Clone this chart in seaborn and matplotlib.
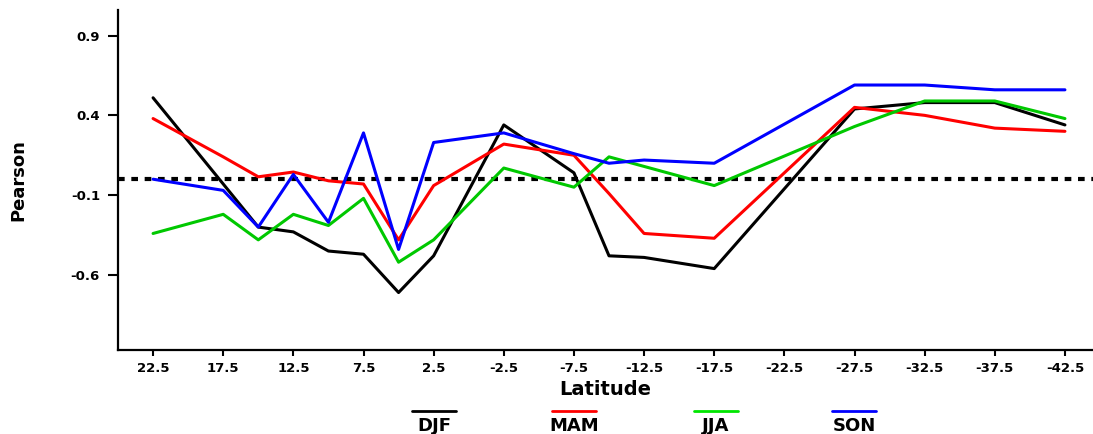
import numpy as np
import pandas as pd
import matplotlib
matplotlib.use("Agg")
import matplotlib.pyplot as plt
from matplotlib.lines import Line2D
import seaborn as sns

# latitude of each correlation point (deg)
LAT = [22.5, 17.5, 15, 12.5, 10, 7.5, 5, 2.5, -2.5, -7.5, -10, -12.5, -17.5,
       -27.5, -32.5, -37.5, -42.5]

DJF = [0.51, -0.03, -0.30, -0.33, -0.45, -0.47, -0.71, -0.48, 0.34, 0.04,
       -0.48, -0.49, -0.56, 0.44, 0.48, 0.48, 0.34]
MAM = [0.38, 0.14, 0.015, 0.045, -0.01, -0.03, -0.38, -0.04, 0.22, 0.15,
       -0.09, -0.34, -0.37, 0.45, 0.40, 0.32, 0.30]
JJA = [-0.34, -0.22, -0.38, -0.22, -0.29, -0.12, -0.52, -0.38, 0.07, -0.05,
       0.14, 0.08, -0.04, 0.33, 0.49, 0.49, 0.38]
SON = [0.0, -0.07, -0.30, 0.03, -0.27, 0.29, -0.44, 0.23, 0.29, 0.16,
       0.10, 0.12, 0.10, 0.59, 0.59, 0.56, 0.56]

SEASONS = ['DJF', 'MAM', 'JJA', 'SON']
COLORS = {'DJF': '#000000', 'MAM': '#ff0000', 'JJA': '#00c800', 'SON': '#0000ff'}
LEGEND_COLORS = ['#000000', '#ff0000', '#00e600', '#0000ff']

XTICKS = [22.5, 17.5, 12.5, 7.5, 2.5, -2.5, -7.5, -12.5, -17.5, -22.5,
          -27.5, -32.5, -37.5, -42.5]
YTICKS = [0.9, 0.4, -0.1, -0.6]

frames = []
for name, vals in zip(SEASONS, [DJF, MAM, JJA, SON]):
    frames.append(pd.DataFrame({'Latitude': LAT, 'Pearson': vals, 'Season': name}))
df = pd.concat(frames, ignore_index=True)

sns.set_style("ticks", {'axes.edgecolor': 'black', 'text.color': 'black',
                        'xtick.color': 'black', 'ytick.color': 'black',
                        'axes.labelcolor': 'black'})
plt.rcParams['font.family'] = ['DejaVu Sans']

W, H = 1093, 434
fig = plt.figure(figsize=(W / 100, H / 100), dpi=100)
ax = fig.add_axes([118 / W, 1 - 350 / H, 1 - 118 / W, (350 - 10) / H])

ax.axhline(0, color='black', lw=3, dashes=(1.6, 1.6), zorder=1)
sns.lineplot(data=df, x='Latitude', y='Pearson', hue='Season', palette=COLORS,
             hue_order=SEASONS, lw=2.2, errorbar=None, legend=False, ax=ax, zorder=2)

ax.set_xlim(25, -44.5)
ax.set_ylim(-1.07, 1.06)
ax.set_xticks(XTICKS)
ax.set_xticklabels([f"{v:g}" for v in XTICKS], fontweight='bold', fontsize=9.5)
ax.set_yticks(YTICKS)
ax.set_yticklabels([f"{v:g}" for v in YTICKS], fontweight='bold', fontsize=9.5)
ax.tick_params(axis='x', length=4.5, width=1.5, pad=4)
ax.tick_params(axis='y', length=7, width=1.5, pad=6)
for s in ['top', 'right']:
    ax.spines[s].set_visible(False)
for s in ['left', 'bottom']:
    ax.spines[s].set_linewidth(1.6)

ax.set_xlabel('Latitude', fontweight='bold', fontsize=14)
ax.set_ylabel('Pearson', fontweight='bold', fontsize=13)
ax.xaxis.set_label_coords((605 - 118) / 975, (350 - 380) / 340)
ax.yaxis.set_label_coords((18 - 118) / 975, 0.5)
ax.yaxis.label.set_va('center')

# legend: line sample above each label
leg_x = [434, 574, 716, 854]
for name, c, xc in zip(SEASONS, LEGEND_COLORS, leg_x):
    fig.add_artist(Line2D([(xc - 22) / W, (xc + 22) / W], [1 - 411 / H, 1 - 411 / H],
                          color=c, lw=2, transform=fig.transFigure))
    fig.text(xc / W, 1 - 426 / H, name, ha='center', va='center',
             fontweight='bold', fontsize=13, color='black')

fig.savefig("out.png", dpi=100)
